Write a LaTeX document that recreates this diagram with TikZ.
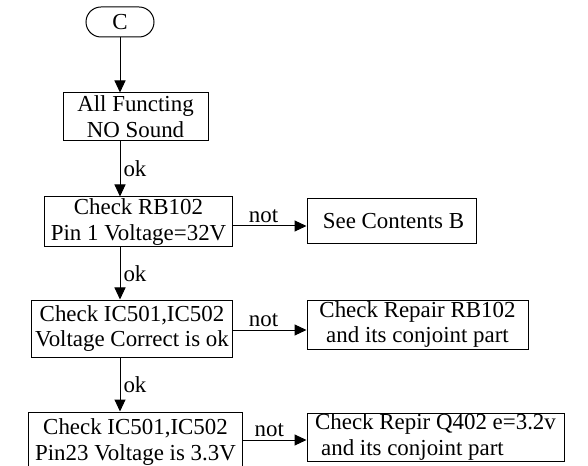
\documentclass[tikz,border=0pt]{standalone}
\usepackage{fontspec}
\setmainfont{Liberation Serif}
\usetikzlibrary{arrows.meta,shapes.misc}
\begin{document}
\begin{tikzpicture}[x=1bp,y=-1bp,
  every node/.style={font=\fontsize{23}{26}\selectfont},
  box/.style={draw, line width=1bp, inner sep=0pt, align=center},
  term/.style={draw, line width=1bp, rounded rectangle, inner sep=0pt},
  arr/.style={line width=1bp, -{Triangle[length=12bp,width=11bp]}},
  oklab/.style={midway, right=3bp, inner sep=0pt},
  notlab/.style={pos=0.42, above=3bp, inner sep=0pt}]
\useasboundingbox (0,0) rectangle (588,466);
\fill[white] (0,0) rectangle (588,466);
\clip (0,0) rectangle (588,466);
\coordinate (col) at (120,0);
\coordinate (r1) at (0,226);
\coordinate (r2) at (0,330);
\coordinate (r3) at (0,440);
\node[term, minimum width=68bp, minimum height=30bp] (C) at (120,22) {C};
\node[box, minimum width=145bp, minimum height=48bp] (b1) at (135.5,117) {All Functing\\NO Sound};
\node[box, minimum width=187bp, minimum height=50bp] (b2) at (138.5,222) {Check RB102\\Pin 1 Voltage=32V};
\node[box, minimum width=169bp, minimum height=45bp] (s1) at (391.5,221.5) {\hspace{4bp}See Contents B};
\node[box, minimum width=200bp, minimum height=57bp] (b3) at (132,328.5) {Check IC501,IC502\\Voltage Correct is ok};
\node[box, minimum width=221bp, minimum height=49bp] (s2) at (417.5,324.5) {Check Repair RB102\\and its conjoint part};
\node[box, minimum width=213bp, minimum height=60bp] (b4) at (135.5,442) {Check IC501,IC502\\Pin23 Voltage is 3.3V};
\node[box, minimum width=257bp, minimum height=48bp, align=left] (s3) at (435.5,437) {Check Repir Q402 e=3.2v\\\hspace{6bp}and its conjoint part};
\draw[arr] (C.south) -- (b1.north -| C.south);
\draw[arr] (b1.south -| col) -- (b2.north -| col) node[oklab] {ok};
\draw[arr] (b2.south -| col) -- (b3.north -| col) node[oklab] {ok};
\draw[arr] (b3.south -| col) -- (b4.north -| col) node[oklab] {ok};
\draw[arr] (b2.east |- r1) -- (s1.west |- r1) node[notlab] {not};
\draw[arr] (b3.east |- r2) -- (s2.west |- r2) node[notlab] {not};
\draw[arr] (b4.east |- r3) -- (s3.west |- r3) node[notlab] {not};
\end{tikzpicture}
\end{document}
